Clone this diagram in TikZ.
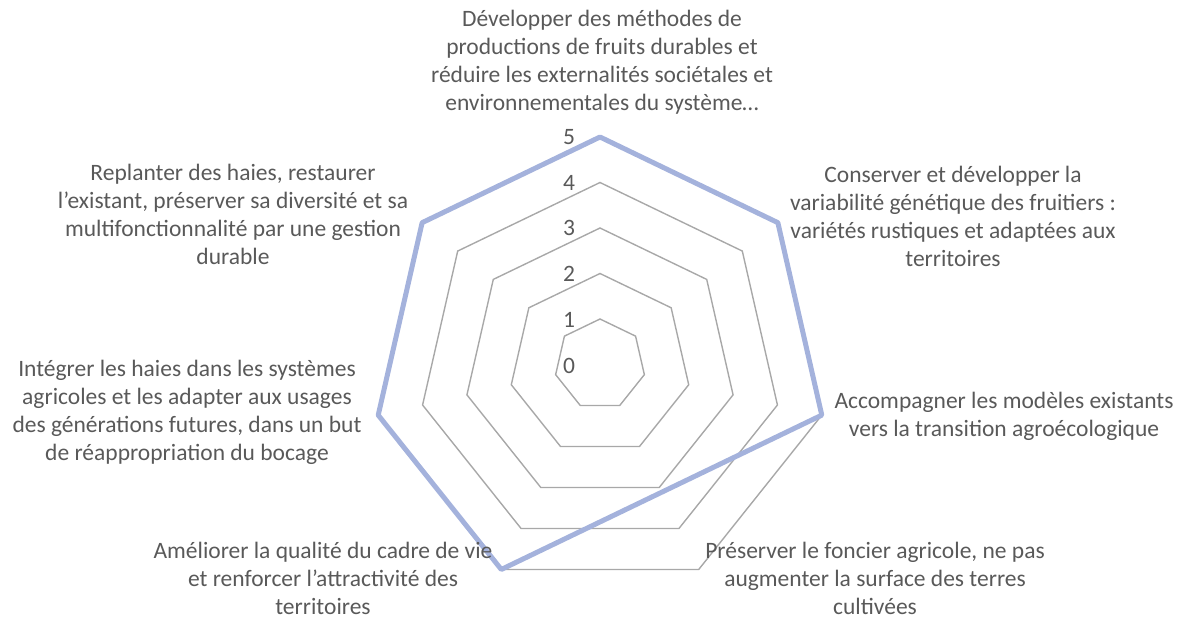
\documentclass[tikz,border=0pt]{standalone}
\usepackage{fontspec}
\setmainfont{Carlito}
\definecolor{txtgray}{HTML}{595959}
\definecolor{ringgray}{HTML}{A8A8A8}
\definecolor{serblue}{RGB}{164,178,220}
\begin{document}
\begin{tikzpicture}[x=1pt,y=-1pt,
  lbl/.style={align=center, text=txtgray, font=\fontsize{23.5}{28}\selectfont, inner sep=0pt},
  tick/.style={text=txtgray, font=\fontsize{23.5}{28}\selectfont, inner sep=0pt},
  ring/.style={draw=ringgray, line width=1.4pt, line join=miter},
  series/.style={draw=serblue, line width=5pt, line join=round}]
\useasboundingbox (0,0) rectangle (1191,619);
% grid rings
\foreach \r in {45.5,91,136.5,182,227.5}
  \draw[ring] (600,{364.5-\r}) \foreach \k in {1,...,6} { -- ({600+\r*sin(\k*360/7)},{364.5-\r*cos(\k*360/7)}) } -- cycle;
% series vertices
\foreach \k in {0,...,6}
  \coordinate (P\k) at ({600+227.5*sin(\k*360/7)},{364.5-227.5*cos(\k*360/7)});
\draw[series] (P0) -- (P1) -- (P2) -- (P4) -- (P5) -- (P6) -- cycle;
% tick labels
\foreach \v/\y in {0/366,1/320,2/274,3/228,4/183,5/137}
  \node[tick] (t\v) at (569,\y) {\v};
% category labels
\node[lbl] (c1) at (602,62) {Développer des méthodes de\\productions de fruits durables et\\réduire les externalités sociétales et\\environnementales du système…};
\node[lbl] (c2) at (953,216) {Conserver et développer la\\variabilité génétique des fruitiers :\\variétés rustiques et adaptées aux\\territoires};
\node[lbl] (c3) at (1004,416) {Accompagner les modèles existants\\vers la transition agroécologique};
\node[lbl] (c4) at (875,578.5) {Préserver le foncier agricole, ne pas\\augmenter la surface des terres\\cultivées};
\node[lbl] (c5) at (323,578.5) {Améliorer la qualité du cadre de vie\\et renforcer l’attractivité des\\territoires};
\node[lbl] (c6) at (187,412) {Intégrer les haies dans les systèmes\\agricoles et les adapter aux usages\\des générations futures, dans un but\\de réappropriation du bocage};
\node[lbl] (c7) at (233,214) {Replanter des haies, restaurer\\l’existant, préserver sa diversité et sa\\multifonctionnalité par une gestion\\durable};
\end{tikzpicture}
\end{document}
